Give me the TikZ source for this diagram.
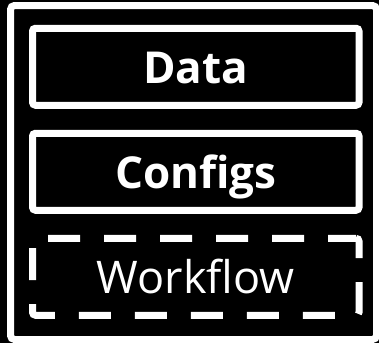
\documentclass[tikz,border=0pt]{standalone}
\usepackage{fontspec}
\setmainfont{Open Sans}
\usetikzlibrary{positioning}

\tikzset{
  layer/.style={draw=white, line width=7pt, rounded corners=3pt, outer sep=0pt,
    minimum width=326.5pt, minimum height=77pt, text=white,
    text height=33pt, text depth=0pt, font=\fontsize{45}{48}\selectfont},
  solidlayer/.style={layer, font=\fontsize{44}{48}\selectfont\bfseries},
  openlayer/.style={layer, dash pattern=on 32pt off 24pt, dash phase=4pt}
}

\begin{document}
\begin{tikzpicture}[x=1pt,y=-1pt,node distance=28pt]
    % black canvas and outer frame
    \fill[black] (0,0) rectangle (379,343);
    \useasboundingbox (0,0) rectangle (379,343);
    \draw[white,line width=7pt,rounded corners=4pt] (10.5,5.5) rectangle (376.5,339.5);

    % stacked layers
    \node[solidlayer] (data) at (195.75,66.75) {Data};
    \node[solidlayer, below=of data] (configs) {Configs};
    \node[openlayer, below=of configs] (workflow) {Workflow};
\end{tikzpicture}
\end{document}
